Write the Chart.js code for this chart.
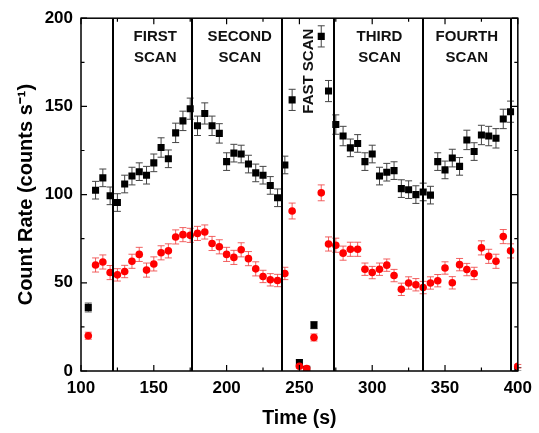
<!DOCTYPE html>
<html><head><meta charset="utf-8">
<script src="https://cdn.jsdelivr.net/npm/chart.js@4/dist/chart.umd.min.js"></script>
<style>html,body{margin:0;padding:0;background:#fff}#wrap{width:539px;height:433px}</style>
</head><body><div id="wrap"><canvas id="c" width="539" height="433"></canvas></div>
<script>
const times = [105,110,115,120,125,130,135,140,145,150,155,160,165,170,175,180,185,190,195,200,205,210,215,220,225,230,235,240,245,250,255,260,265,270,275,280,285,290,295,300,305,310,315,320,325,330,335,340,345,350,355,360,365,370,375,380,385,390,395,400];
const blackRate = [36,102.5,109.5,99.3,95.5,106,110.5,113,111,118,126.7,120.3,135,141.8,148.7,139,146,139,134.7,118.7,123.5,123,117.3,112.3,111,105.2,98.2,116.8,153.7,4.8,1,26,189.7,158.7,139.7,133.2,126.5,129,118.7,123,110.5,112.7,113.6,103.4,102.8,100,101.5,99.7,118.7,114,120.7,116,131,124.4,133.8,133.2,131.9,142.9,147,1];
const blackErr = [2.5,5,5,5,5,5,5,5,5,5,5.5,5,5.5,5.5,6,5.5,6,5.5,5.5,5,5,5,5,5,5,5,5,5,6,1.5,1,2,6,6,5.5,5.5,5,5,5,5,5,5,5,5,5,5,5,5,5,5,5,5,5.5,5,5.5,5.5,5.5,5.5,6,1];
const redRate = [20,60.1,61.8,55.8,54.5,56.4,62.2,66.1,57.2,60.7,67,68.1,76,77.3,76.9,78,78.8,72.3,70.4,66.1,64.4,68.7,63.7,57.9,53.6,51.7,51.3,55.3,90.7,2.7,1.4,19,101,72,71.3,66.8,69,69,57.7,55.8,57.7,60,54.1,46.3,49.9,48.9,47.3,49.9,51.2,58.4,50,60.3,57.5,55.3,69.8,65,62.2,76.2,68.1,2.7];
const redErr = [2,4,4,4,3.5,3.5,4,4,4,4,4,4,4,4,4,4,4,4,4,4,4,4,4,4,3.5,3.5,3.5,3.5,4.5,1,1,2,4.5,4,4,4,4,4,3.5,3.5,3.5,3.5,3.5,3.5,3.5,3.5,3.5,3.5,3.5,3.5,3.5,3.5,3.5,3.5,4,4,4,4,4,1];
const scanBoundaries = [122,176,238,274,335,395];
const scanLabels = [["FIRST","SCAN"],["SECOND","SCAN"],["FAST SCAN"],["THIRD","SCAN"],["FOURTH","SCAN"]];
const scanLabelTimes = [151,209,256.5,305,365];
const xTickValues = [100,125,150,175,200,225,250,275,300,325,350,375,400];
const yTickValues = [0,25,50,75,100,125,150,175,200];

const FONT = '"Liberation Sans", Arial, sans-serif';

const decorPlugin = {
  id: 'decor',
  beforeDatasetsDraw(chart) {
    const ctx = chart.ctx, xs = chart.scales.x, ys = chart.scales.y;
    const ca = chart.chartArea;
    ctx.save();
    ctx.beginPath(); ctx.rect(ca.left, ca.top - 20, ca.right - ca.left + 20, ca.bottom - ca.top + 20); ctx.clip();
    const drawErr = (vals, errs, color) => {
      ctx.strokeStyle = color; ctx.lineWidth = 1;
      for (let i = 0; i < times.length; i++) {
        const x = xs.getPixelForValue(times[i]);
        const y1 = ys.getPixelForValue(vals[i] + errs[i]);
        const y2 = ys.getPixelForValue(vals[i] - errs[i]);
        ctx.beginPath();
        ctx.moveTo(x, y1); ctx.lineTo(x, y2);
        ctx.moveTo(x - 3.5, y1); ctx.lineTo(x + 3.5, y1);
        ctx.moveTo(x - 3.5, y2); ctx.lineTo(x + 3.5, y2);
        ctx.stroke();
      }
    };
    drawErr(blackRate, blackErr, '#444');
    drawErr(redRate, redErr, 'rgba(240,70,70,0.85)');
    ctx.restore();
  },
  afterDatasetsDraw(chart) {
    const ctx = chart.ctx, xs = chart.scales.x, ys = chart.scales.y;
    const ca = chart.chartArea;
    ctx.save();
    ctx.strokeStyle = '#000'; ctx.lineWidth = 2;
    scanBoundaries.forEach(t => {
      const x = Math.round(xs.getPixelForValue(t));
      ctx.beginPath(); ctx.moveTo(x, ca.top); ctx.lineTo(x, ca.bottom); ctx.stroke();
    });
    ctx.lineWidth = 1.5;
    ctx.strokeRect(ca.left, ca.top, ca.right - ca.left, ca.bottom - ca.top);
    ctx.lineWidth = 1.2;
    xTickValues.forEach(v => {
      const x = xs.getPixelForValue(v);
      const len = v % 50 === 0 ? 6 : 3.5;
      ctx.beginPath();
      ctx.moveTo(x, ca.bottom); ctx.lineTo(x, ca.bottom - len);
      ctx.moveTo(x, ca.top); ctx.lineTo(x, ca.top + len);
      ctx.stroke();
    });
    yTickValues.forEach(v => {
      const y = ys.getPixelForValue(v);
      const len = v % 50 === 0 ? 6 : 3.5;
      ctx.beginPath();
      ctx.moveTo(ca.left, y); ctx.lineTo(ca.left + len, y);
      ctx.moveTo(ca.right, y); ctx.lineTo(ca.right - len, y);
      ctx.stroke();
    });
    ctx.fillStyle = '#111';
    ctx.font = 'bold 15px ' + FONT;
    ctx.textAlign = 'center'; ctx.textBaseline = 'middle';
    scanLabels.forEach((lines, i) => {
      const x = xs.getPixelForValue(scanLabelTimes[i]);
      if (lines.length === 1) {
        ctx.save();
        ctx.translate(x, ca.top + 53);
        ctx.rotate(-Math.PI / 2);
        ctx.fillText(lines[0], 0, 0);
        ctx.restore();
      } else {
        lines.forEach((ln, j) => ctx.fillText(ln, x, ca.top + 19 + j * 21));
      }
    });
    ctx.restore();
  }
};

new Chart(document.getElementById('c'), {
  type: 'scatter',
  data: {
    datasets: [
      { label: 'red', order: 0, data: times.map((t, i) => ({x: t, y: redRate[i]})),
        pointStyle: 'circle', pointRadius: 3.8, backgroundColor: '#ff0000', borderColor: '#ff0000', borderWidth: 0 },
      { label: 'black', order: 1, data: times.map((t, i) => ({x: t, y: blackRate[i]})),
        pointStyle: 'rect', pointRadius: 5, backgroundColor: '#000', borderColor: '#000', borderWidth: 0 }
    ]
  },
  options: {
    responsive: false, animation: false, devicePixelRatio: 1,
    layout: { padding: { left: 0, top: 14, right: 16, bottom: 0 } },
    plugins: { legend: { display: false }, tooltip: { enabled: false } },
    scales: {
      x: {
        type: 'linear', min: 100, max: 400,
        afterBuildTicks: s => { s.ticks = xTickValues.map(v => ({value: v})); },
        afterFit: s => { s.height = 62; },
        grid: { display: false, drawTicks: false }, border: { display: false },
        ticks: { autoSkip: false, maxRotation: 0, padding: 7, color: '#000',
          font: { family: FONT, size: 17, weight: 'bold' },
          callback: v => (v % 50 === 0 ? String(v) : '') },
        title: { display: true, text: 'Time (s)', color: '#000', padding: { top: 6, bottom: 3 },
          font: { family: FONT, size: 19.5, weight: 'bold' } }
      },
      y: {
        type: 'linear', min: 0, max: 200,
        afterBuildTicks: s => { s.ticks = yTickValues.map(v => ({value: v})); },
        afterFit: s => { s.width = 81; },
        grid: { display: false, drawTicks: false }, border: { display: false },
        ticks: { autoSkip: false, padding: 8, color: '#000',
          font: { family: FONT, size: 17, weight: 'bold' },
          callback: v => (v % 50 === 0 ? String(v) : '') },
        title: { display: true, text: 'Count Rate (counts s\u207B\u00B9)', color: '#000', padding: { top: 14, bottom: 0 },
          font: { family: FONT, size: 20, weight: 'bold' } }
      }
    }
  },
  plugins: [decorPlugin]
});
</script></body></html>
